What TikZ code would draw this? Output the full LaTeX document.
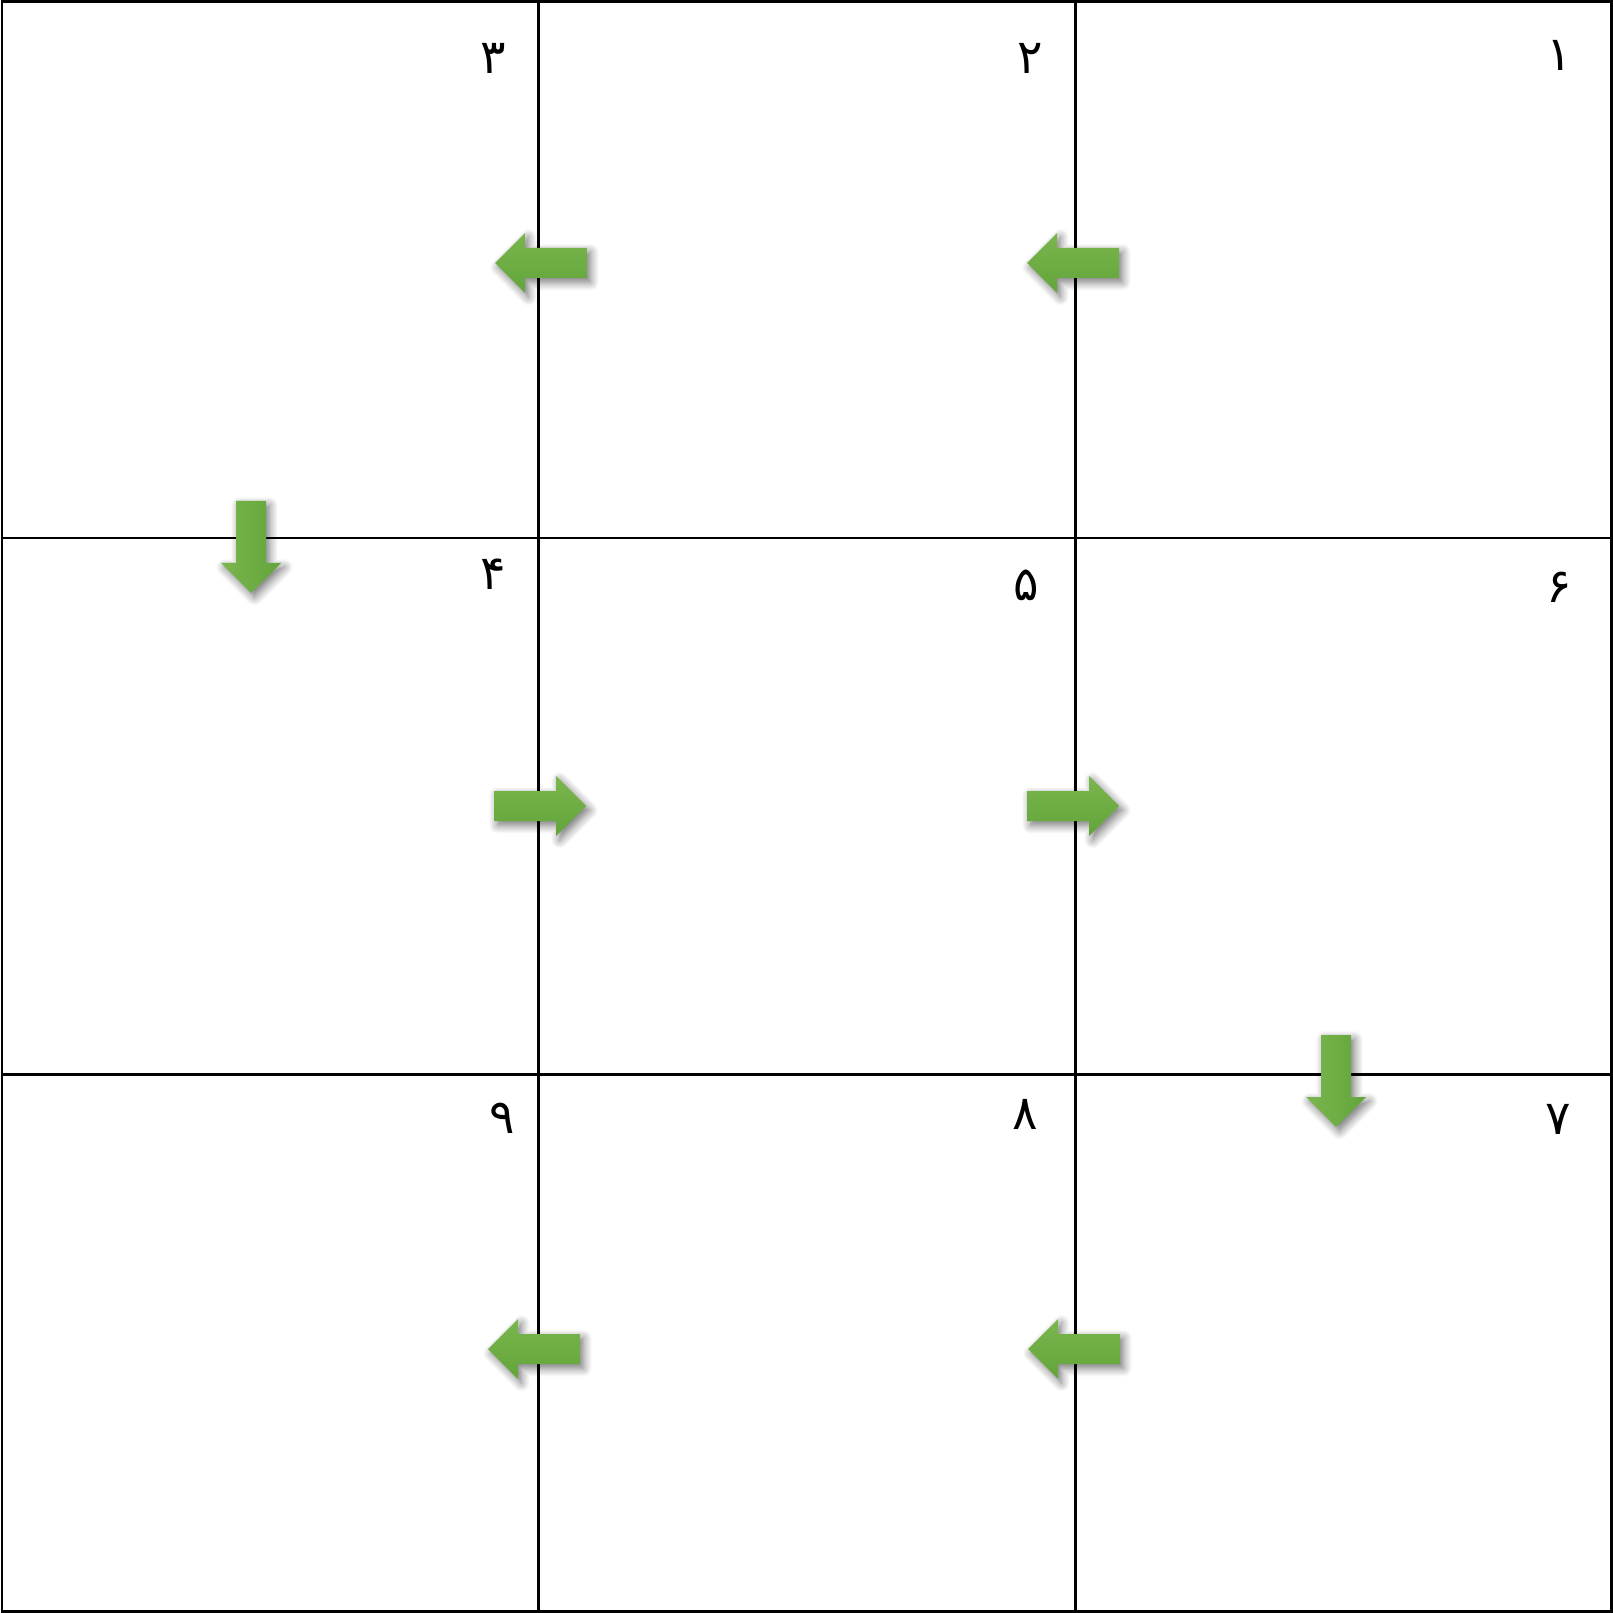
\documentclass[tikz,border=0pt]{standalone}
\usepackage{fontspec}
\newfontfamily\arabicfont[Script=Arabic]{DejaVu Sans}
\usetikzlibrary{shadows.blur}
\definecolor{arrowlight}{HTML}{7AB64E}
\definecolor{arrowdark}{HTML}{62A53A}
\tikzset{
    gridline/.style={line width=0.85pt, black},
    digit/.style={font=\arabicfont\fontsize{13.5}{15}\selectfont, inner sep=0pt},
    arrowshadow/.style={blur shadow={shadow xshift=1pt, shadow yshift=-1.2pt, shadow blur radius=2.4pt, shadow blur steps=8, shadow opacity=55}},
    hshade/.style={top color=arrowlight, bottom color=arrowdark, arrowshadow},
    vshade/.style={left color=arrowlight, right color=arrowdark, arrowshadow},
    pics/harrow/.style={code={
        \shade[hshade] (0,-15) -- (#1*62,-15) -- (#1*62,-30) -- (#1*92,0) -- (#1*62,30) -- (#1*62,15) -- (0,15) -- cycle;
    }},
    pics/darrow/.style={code={
        \shade[vshade] (-15,0) -- (15,0) -- (15,62) -- (30,62) -- (0,92) -- (-30,62) -- (-15,62) -- cycle;
    }}
}

\begin{document}
\begin{tikzpicture}[x=0.01cm, y=-0.01cm]
    \useasboundingbox (0,0) rectangle (1613,1613);
    % grid
    \draw[gridline] (2,2) rectangle (1611,1611);
    \draw[gridline] (538,2) -- (538,1611);
    \draw[gridline] (1075,2) -- (1075,1611);
    \draw[gridline] (2,538) -- (1611,538);
    \draw[gridline] (2,1074) -- (1611,1074);
    % numbers
    \node[digit] (n1) at (1559,55) {۱};
    \node[digit] (n2) at (1030,58) {۲};
    \node[digit] (n3) at (493,58) {۳};
    \node[digit] (n4) at (493,574) {۴};
    \node[digit] (n5) at (1026,585) {۵};
    \node[digit] (n6) at (1559,587) {۶};
    \node[digit] (n7) at (1558,1119) {۷};
    \node[digit] (n8) at (1025,1114) {۸};
    \node[digit] (n9) at (502,1118) {۹};
    % arrows
    \pic at (1119,263) {harrow=-1};
    \pic at (587,263) {harrow=-1};
    \pic at (251,501) {darrow};
    \pic at (494,806) {harrow=1};
    \pic at (1027,806) {harrow=1};
    \pic at (1336,1035) {darrow};
    \pic at (1120,1349) {harrow=-1};
    \pic at (580,1349) {harrow=-1};
\end{tikzpicture}
\end{document}
